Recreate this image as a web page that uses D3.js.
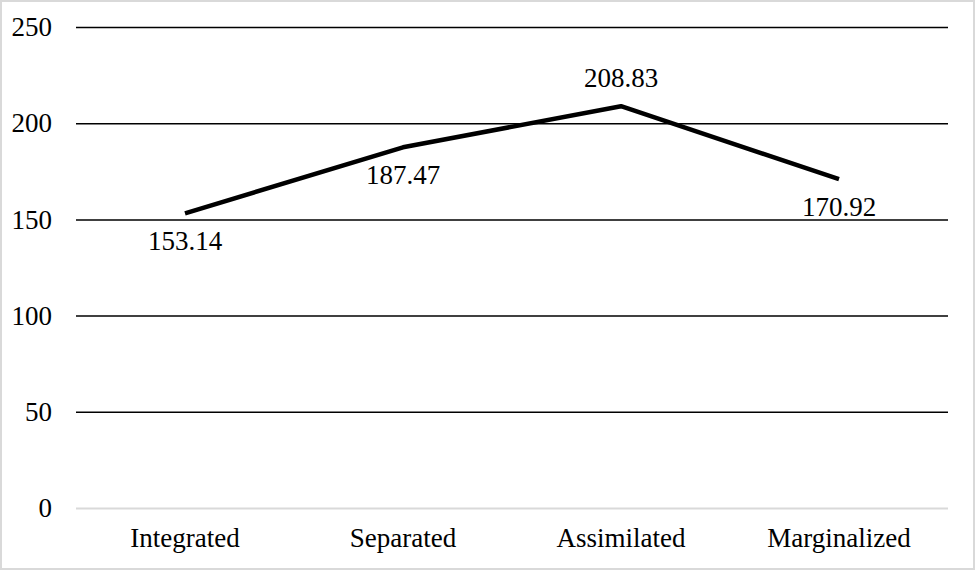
<!DOCTYPE html>
<html>
<head>
<meta charset="utf-8">
<script src="https://cdn.jsdelivr.net/npm/d3@7"></script>
<style>
  html, body { margin: 0; padding: 0; background: #fff; }
  svg text { font-family: "Liberation Serif", "Times New Roman", serif; fill: #000; }
</style>
</head>
<body>
<svg id="chart" width="975" height="570"></svg>
<script>
// values
const groups = ['Integrated', 'Separated', 'Assimilated', 'Marginalized'];
const scores = [153.14, 187.47, 208.83, 170.92];
const yTicks = [0, 50, 100, 150, 200, 250];
// where the value label sits: below or above the point
const labelSide = ['below', 'below', 'above', 'below'];

const width = 975;
const height = 570;
const margin = { top: 27, right: 27, bottom: 62, left: 76 };
const fontSize = 27;
const serif = '"Liberation Serif", "Times New Roman", serif';

const svg = d3.select('#chart');

// light frame round the picture
svg.append('rect')
  .attr('x', 1).attr('y', 1)
  .attr('width', width - 2).attr('height', height - 2)
  .style('fill', 'none')
  .style('stroke', '#d9d9d9')
  .style('stroke-width', 2);

const x = d3.scaleBand()
  .domain(groups)
  .range([margin.left, width - margin.right])
  .padding(0);

const y = d3.scaleLinear()
  .domain([0, 250])
  .range([height - margin.bottom, margin.top]);

// gridlines
const yAxis = d3.axisLeft(y)
  .tickValues(yTicks)
  .tickSize(-(width - margin.left - margin.right))
  .tickPadding(24);

const gy = svg.append('g')
  .attr('transform', `translate(${margin.left},0)`)
  .call(yAxis);
gy.attr('font-family', serif);
gy.select('.domain').remove();
gy.selectAll('.tick line')
  .style('stroke', d => d === 0 ? '#d9d9d9' : '#000')
  .style('stroke-width', d => d === 0 ? 2 : 1.5);
gy.selectAll('.tick text')
  .style('font-size', fontSize + 'px');

// category axis
const xAxis = d3.axisBottom(x).tickSize(0).tickPadding(20);
const gx = svg.append('g')
  .attr('transform', `translate(0,${height - margin.bottom})`)
  .call(xAxis);
gx.attr('font-family', serif);
gx.select('.domain').remove();
gx.selectAll('.tick text')
  .style('font-size', fontSize + 'px');

const cx = d => x(d) + x.bandwidth() / 2;

const line = d3.line()
  .x((d, i) => cx(groups[i]))
  .y(d => y(d));

svg.append('path')
  .datum(scores)
  .attr('d', line)
  .style('fill', 'none')
  .style('stroke', '#000')
  .style('stroke-width', 4.5)
  .style('stroke-linejoin', 'round');

svg.append('g')
  .attr('font-family', serif)
  .selectAll('text')
  .data(scores)
  .join('text')
  .attr('x', (d, i) => cx(groups[i]))
  .attr('y', (d, i) => labelSide[i] === 'above' ? y(d) - 19 : y(d) + 37)
  .attr('text-anchor', 'middle')
  .style('font-size', fontSize + 'px')
  .text(d => d.toFixed(2));
</script>
</body>
</html>
